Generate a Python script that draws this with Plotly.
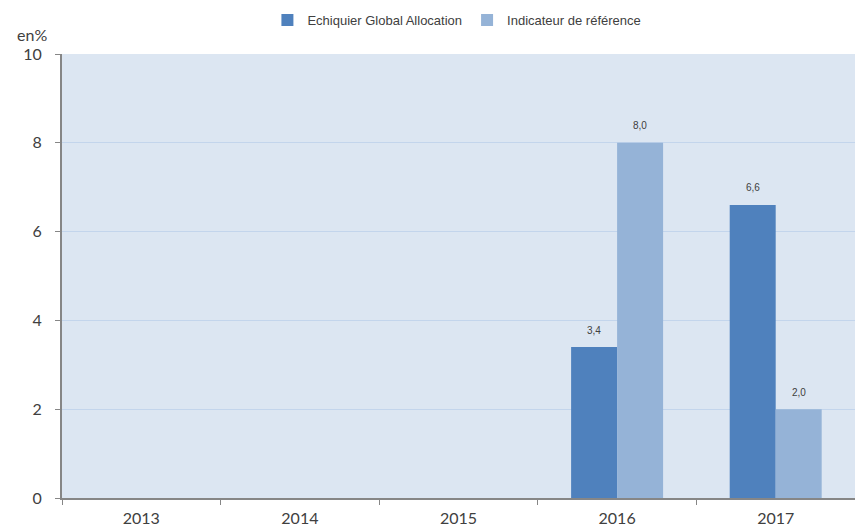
import plotly.graph_objects as go

years = ["2013", "2014", "2015", "2016", "2017"]
fund = [None, None, None, 3.4, 6.6]
bench = [None, None, None, 8.0, 2.0]
fund_name = "Echiquier Global Allocation"
bench_name = "Indicateur de référence"
y_ticks = [0, 2, 4, 6, 8, 10]

C_FUND = "#4F81BD"
C_BENCH = "#95B3D7"
TXT = "#404040"
W, H = 855, 529
ML, MR, MT, MB = 62, 0, 54, 31
PW, PH = W - ML - MR, H - MT - MB

def fmt(v):
    return f"{v:.1f}".replace(".", ",")

fig = go.Figure()
fig.add_trace(go.Bar(x=years, y=fund, name=fund_name, marker=dict(color=C_FUND, line=dict(width=0))))
fig.add_trace(go.Bar(x=years, y=bench, name=bench_name, marker=dict(color=C_BENCH, line=dict(width=0))))

annotations = []
for vals, shift in ((fund, -23), (bench, 23)):
    for i, v in enumerate(vals):
        if v is None:
            continue
        annotations.append(dict(x=i, y=v, xref="x", yref="y", text=fmt(v), showarrow=False,
                                xshift=shift, yshift=17, font=dict(family="Liberation Sans, Arial", size=10, color=TXT)))
annotations.append(dict(x=(15 - ML) / PW, y=1 + (MT - 34) / PH, xref="paper", yref="paper", text="en%",
                        showarrow=False, font=dict(family="Lato", size=16, color=TXT),
                        xanchor="left", yanchor="middle"))

fig.update_layout(
    width=W, height=H,
    margin=dict(l=ML, r=MR, t=MT, b=MB),
    paper_bgcolor="white",
    plot_bgcolor="#DCE6F2",
    barmode="group",
    bargap=0.42,
    bargroupgap=0,
    showlegend=True,
    legend=dict(orientation="h", x=0.498, xanchor="center", yref="container", y=1 - 20 / H, yanchor="middle",
                font=dict(family="Liberation Sans, Arial", size=13, color=TXT),
                itemwidth=30, bgcolor="rgba(0,0,0,0)"),
    annotations=annotations,
    xaxis=dict(type="category", categoryorder="array", categoryarray=years, range=[-0.5, 4.5],
               showline=True, linecolor="#868686", linewidth=2,
               ticks="outside", tickson="boundaries", ticklen=5, tickcolor="#868686", tickwidth=1,
               ticklabelstandoff=5,
               tickfont=dict(family="Lato", size=16, color=TXT), showgrid=False),
    yaxis=dict(range=[0, 10], tickvals=y_ticks, showline=True, linecolor="#868686", linewidth=2,
               ticks="outside", ticklen=5, tickcolor="#868686", tickwidth=1,
               ticklabelstandoff=10,
               tickfont=dict(family="Lato", size=16, color=TXT),
               showgrid=True, gridcolor="#C3D5EC", gridwidth=1, zeroline=False),
)

post = ("document.body.style.margin='0';document.body.style.overflow='hidden';"
        "Plotly.relayout(document.getElementById('{plot_id}'), {width: %d, height: %d});" % (W, H))
fig.write_html("out.html", post_script=post, config={"displayModeBar": False})
